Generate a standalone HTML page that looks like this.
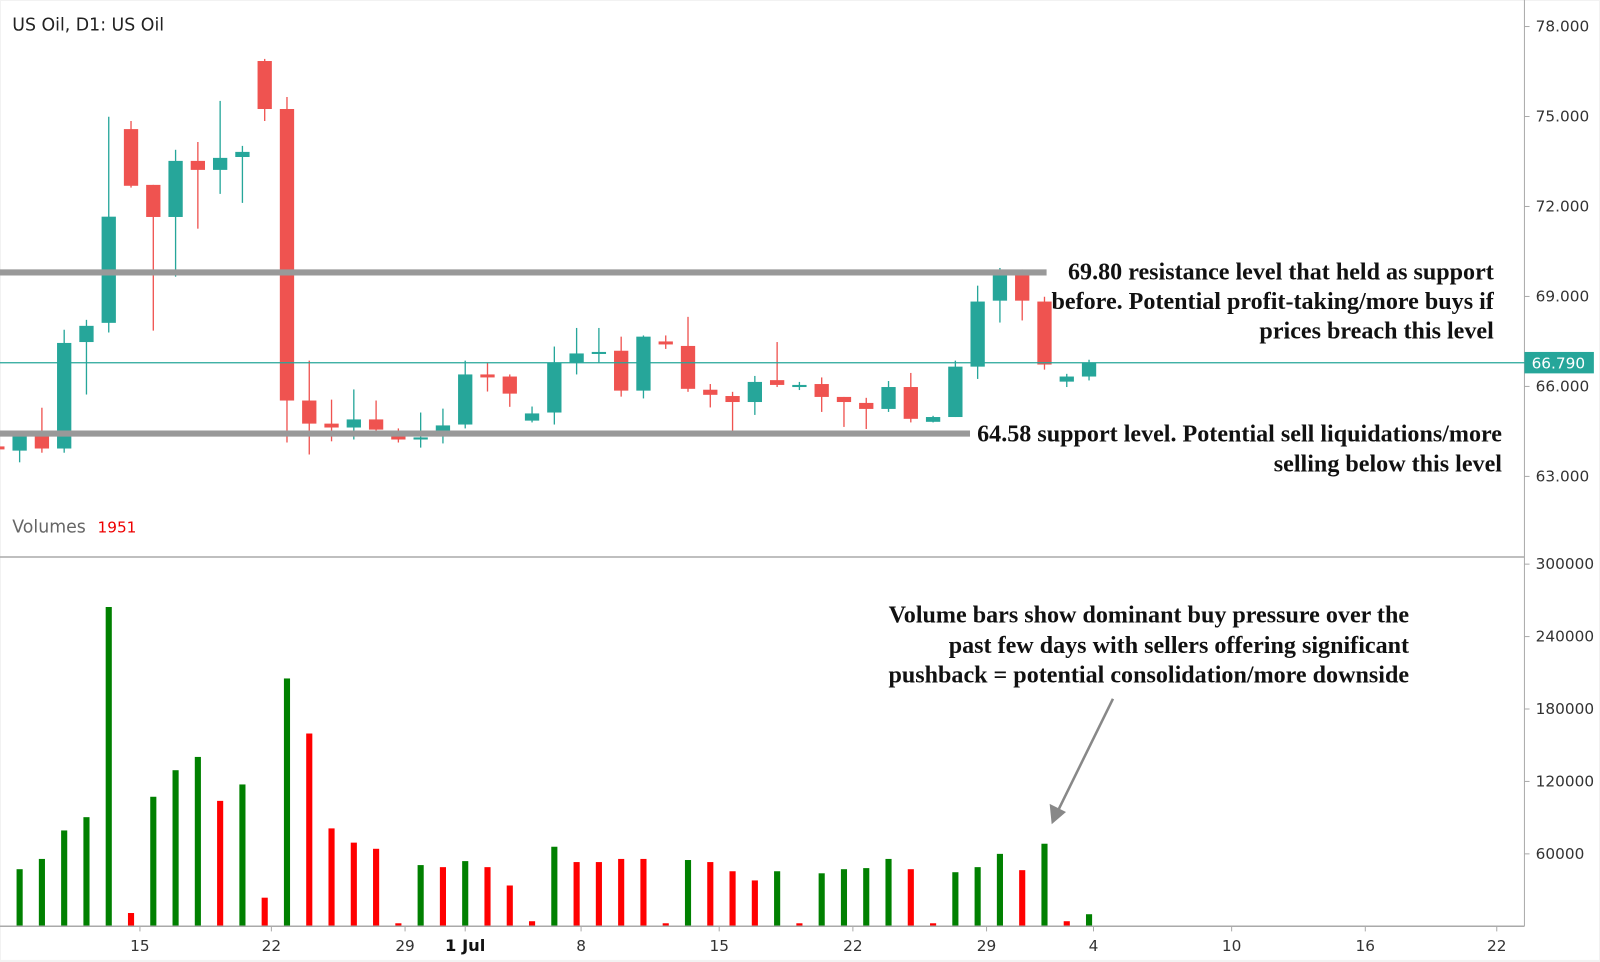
<!DOCTYPE html>
<html><head><meta charset="utf-8">
<style>
html,body{margin:0;padding:0;background:#fff;}
svg{display:block;}
text{font-family:"DejaVu Sans","Liberation Sans",sans-serif;}
.ann{font-family:"Liberation Serif",serif;font-weight:bold;font-size:23.6px;fill:#111;}
.ax{font-size:15px;fill:#333;}
</style></head>
<body>
<svg id="chart" width="1600" height="962" viewBox="0 0 1567 943" preserveAspectRatio="none" xmlns="http://www.w3.org/2000/svg">
  <rect x="0" y="0" width="1567" height="943" fill="#f2f2f2"/>
  <rect x="1" y="1" width="1565" height="940" fill="#fff"/>
  <g id="price-pane"></g>
  <g id="volume-pane"></g>
  <line x1="0" y1="546" x2="1493" y2="546" stroke="#aaa" stroke-width="1.5"/>
  <line x1="1493" y1="0" x2="1493" y2="908" stroke="#aaa" stroke-width="1"/>
  <line x1="0" y1="908" x2="1493" y2="908" stroke="#aaa" stroke-width="1.5"/>
  <g id="axes"></g>
  <text x="12" y="30" style="font-size:17px;fill:#222">US Oil, D1: US Oil</text>
  <text x="12" y="522" style="font-size:17px;fill:#666">Volumes <tspan style="fill:#e00;font-size:15px" dx="6">1951</tspan></text>

  <line x1="0" y1="267" x2="1025" y2="267" stroke="#999" stroke-width="6"/>
  <line x1="0" y1="425" x2="950" y2="425" stroke="#999" stroke-width="6"/>
  <line x1="0" y1="355.6" x2="1493" y2="355.6" stroke="#26a69a" stroke-width="1.2"/>
  <rect x="1493" y="345" width="68" height="21" fill="#26a69a"/>
  <text x="1500" y="361" style="font-size:15px;fill:#fff">66.790</text>

  <g text-anchor="end">
    <text class="ann" x="1463" y="274">69.80 resistance level that held as support</text>
    <text class="ann" x="1463" y="303">before. Potential profit-taking/more buys if</text>
    <text class="ann" x="1463" y="332">prices breach this level</text>
  </g>
  <g text-anchor="end">
    <text class="ann" x="1471" y="433">64.58 support level. Potential sell liquidations/more</text>
    <text class="ann" x="1471" y="462">selling below this level</text>
  </g>
  <g text-anchor="end">
    <text class="ann" x="1380" y="610">Volume bars show dominant buy pressure over the</text>
    <text class="ann" x="1380" y="640">past few days with sellers offering significant</text>
    <text class="ann" x="1380" y="669">pushback = potential consolidation/more downside</text>
  </g>
  <g>
    <line x1="1090" y1="685" x2="1036" y2="795" stroke="#888" stroke-width="2.5"/>
    <polygon points="1030,808 1028,788 1044,796" fill="#888"/>
  </g>
</svg>
<script>
const opens  = [64.0,63.86,64.36,63.93,67.48,68.12,74.58,72.72,71.65,73.52,73.22,73.65,76.85,75.25,65.53,64.76,64.63,64.9,64.36,64.23,64.33,64.73,66.4,66.33,64.86,65.13,66.8,67.12,67.19,65.86,67.5,67.35,65.89,65.68,65.48,66.21,65.98,66.08,65.65,65.45,65.25,65.98,64.82,64.98,66.66,68.86,69.7,68.83,66.16,66.33];
const highs  = [64.05,64.45,65.29,67.89,68.22,74.99,74.85,72.72,73.89,74.15,75.52,74.02,76.92,75.65,66.86,65.56,65.9,65.53,64.6,65.13,65.26,66.86,66.8,66.4,65.33,67.33,67.95,67.95,67.66,67.7,67.7,68.32,66.08,65.82,66.35,67.48,66.15,66.3,65.65,65.62,66.18,66.45,65.02,66.86,69.36,69.95,69.9,68.99,66.42,66.89];
const lows   = [63.85,63.47,63.79,63.79,65.73,67.8,72.63,67.86,69.66,71.26,72.42,72.12,74.85,64.13,63.73,64.17,64.23,64.5,64.13,63.96,64.1,64.6,65.83,65.32,64.8,64.73,66.4,66.8,65.66,65.6,67.25,65.82,65.3,64.51,65.05,65.98,65.88,65.15,64.65,64.58,65.15,64.8,64.8,64.98,66.25,68.13,68.2,66.56,65.98,66.2];
const closes = [63.9,64.36,63.93,67.45,68.02,71.66,72.69,71.65,73.52,73.22,73.62,73.82,75.25,65.53,64.76,64.63,64.9,64.56,64.23,64.3,64.7,66.4,66.3,65.76,65.1,66.79,67.1,67.15,65.86,67.66,67.4,65.92,65.72,65.48,66.15,66.05,66.05,65.65,65.48,65.25,65.98,64.92,64.98,66.66,68.83,69.7,68.86,66.73,66.33,66.79];
const volumes = [0,47300,55800,79400,90400,264500,11000,107300,129300,140300,103900,117500,23700,205300,159700,81100,69300,64200,2500,50700,49000,54000,49000,33800,4200,65900,53200,53200,55800,55800,2500,54900,53200,45600,38000,45600,2500,43900,47300,48200,55800,47300,2500,44800,49000,60000,46500,68400,4200,10000];
const volumeUp = [0,1,1,1,1,1,0,1,1,1,0,1,0,1,0,0,0,0,0,1,0,1,0,0,0,1,0,0,0,0,0,1,0,0,0,1,0,1,1,1,1,0,0,1,1,1,0,1,0,1];
const priceTicks = [78,75,72,69,66,63];
const volumeTicks = [300000,240000,180000,120000,60000];
const dateLabels = ["15","22","29","1 Jul","8","15","22","29","4","10","16","22"];
const dateIndex  = [6.4,12.3,18.3,21,26.2,32.4,38.4,44.4,49.2,55.4,61.4,67.3];

const NS="http://www.w3.org/2000/svg";
function xOf(i){return -2.6+i*21.82;}
function yP(p){return 26+(78-p)*29.4;}
function yV(v){return 908-v*355/300000;}
function mk(tag,attrs,parent){const e=document.createElementNS(NS,tag);for(const k in attrs)e.setAttribute(k,attrs[k]);parent.appendChild(e);return e;}

const pp=document.getElementById('price-pane');
for(let i=0;i<opens.length;i++){
  const up=closes[i]>=opens[i];const col=up?'#26a69a':'#ef5350';
  const g=mk('g',{},pp);
  
  
  const x=xOf(i);
  mk('line',{x1:x,x2:x,y1:yP(highs[i]),y2:yP(lows[i]),stroke:col,'stroke-width':1.3},g);
  const t=yP(Math.max(opens[i],closes[i])),b=yP(Math.min(opens[i],closes[i]));
  mk('rect',{x:x-7,y:t,width:14,height:Math.max(b-t,2),fill:col},g);
}
const vp=document.getElementById('volume-pane');
for(let i=0;i<volumes.length;i++){
  if(!volumes[i])continue;
  const r=mk('rect',{x:xOf(i)-3,y:yV(volumes[i]),width:6,height:908-yV(volumes[i]),fill:volumeUp[i]?'#008000':'#ff0000'},vp);
  
  
}
const ax=document.getElementById('axes');
priceTicks.forEach(p=>{
  mk('line',{x1:1493,x2:1498,y1:yP(p),y2:yP(p),stroke:'#aaa'},ax);
  const t=mk('text',{x:1504,y:yP(p)+5,class:'ax'},ax);t.textContent=p.toFixed(3);
  
  
});
volumeTicks.forEach(v=>{
  mk('line',{x1:1493,x2:1498,y1:yV(v),y2:yV(v),stroke:'#aaa'},ax);
  const t=mk('text',{x:1504,y:yV(v)+5,class:'ax'},ax);t.textContent=String(v);
  
  
});
dateLabels.forEach((d,k)=>{
  const x=xOf(dateIndex[k]);
  mk('line',{x1:x,x2:x,y1:908,y2:913,stroke:'#aaa'},ax);
  const t=mk('text',{x:x,y:932,'text-anchor':'middle',class:'ax'},ax);t.textContent=d;
  if(d==='1 Jul'){t.setAttribute('style','font-weight:bold;font-size:16px;fill:#111');}
  
  
});
</script>
</body></html>
